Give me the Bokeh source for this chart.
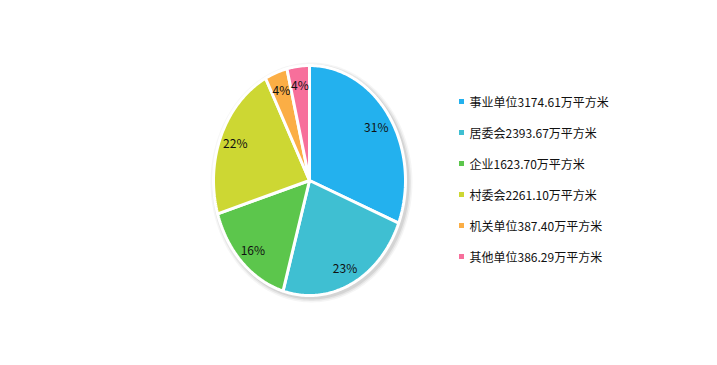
import numpy as np
from bokeh.plotting import figure
from bokeh.models import Range1d
from bokeh.core.properties import value
from bokeh.embed import file_html
from bokeh.resources import INLINE

categories = ["事业单位", "居委会", "企业", "村委会", "机关单位", "其他单位"]
values = [3174.61, 2393.67, 1623.70, 2261.10, 387.40, 386.29]
unit = "万平方米"
colors = ["#23B1EE", "#3FBFD2", "#5CC64C", "#CDD733", "#FBAE45", "#F76F9B"]

W, H = 701, 349
p = figure(width=W, height=H, output_backend="svg", toolbar_location=None,
           x_range=Range1d(0, W), y_range=Range1d(H, 0), min_border=0,
           outline_line_color=None)
p.axis.visible = False
p.grid.visible = False

cx, cy, rx, ry = 309, 180, 96, 115

total = sum(values)
fr = np.array(values) / total
ends = np.cumsum(fr) * 2 * np.pi
starts = ends - fr * 2 * np.pi

# soft shadow
t = np.linspace(0, 2 * np.pi, 200)
for k, a in [(5, 0.04), (3.5, 0.06), (2, 0.08)]:
    p.patch(cx + 2 + (rx + k) * np.sin(t), cy + 2 - (ry + k) * np.cos(t),
            fill_color="#000000", fill_alpha=a, line_color=None)

xs, ys = [], []
for s, e in zip(starts, ends):
    tt = np.linspace(s, e, max(int((e - s) * 60), 4))
    xs.append([cx] + list(cx + rx * np.sin(tt)) + [cx])
    ys.append([cy] + list(cy - ry * np.cos(tt)) + [cy])
p.patches(xs, ys, fill_color=colors, line_color="white", line_width=3)

mid = (starts + ends) / 2
f = 0.84
labels = [f"{round(v * 100)}%" for v in fr]
p.text(cx + rx * f * np.sin(mid), cy - ry * f * np.cos(mid), text=labels,
       text_align="center", text_baseline="middle", text_font_size="12px",
       text_font=value("Noto Sans CJK SC"), text_color="#111111")

# legend
lx, ly0, dy = 461, 101, 31
ly = [ly0 + i * dy for i in range(len(categories))]
p.scatter([lx] * len(categories), ly, marker="square", size=5, fill_color=colors, line_color=None)
leg = [f"{c}{v:.2f}{unit}" for c, v in zip(categories, values)]
p.text([lx + 8] * len(categories), ly, text=leg, text_align="left", text_baseline="middle",
       text_font_size="12px", text_font=value("Noto Sans CJK SC"), text_color="#111111")

open("out.html", "w").write(file_html(p, INLINE))
